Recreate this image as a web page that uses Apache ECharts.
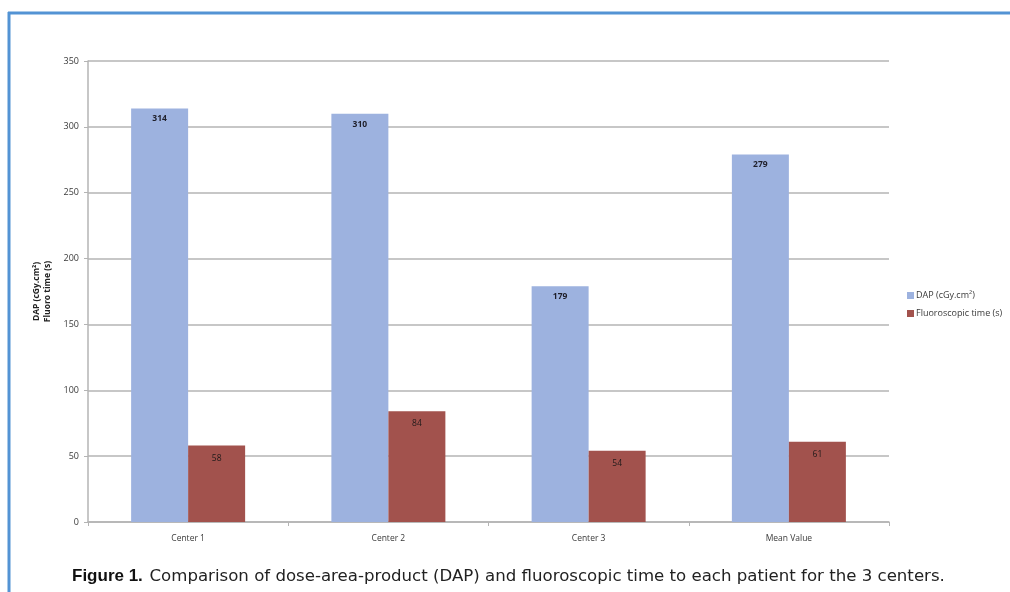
<!DOCTYPE html>
<html>
<head>
<meta charset="utf-8">
<script src="https://cdn.jsdelivr.net/npm/echarts@6/dist/echarts.min.js"></script>
<style>
  html, body { margin: 0; padding: 0; background: #fff; }
  #chart { width: 1010px; height: 592px; }
</style>
</head>
<body>
<div id="chart"></div>
<script>
// Per-center values
const categories = ['Center 1', 'Center 2', 'Center 3', 'Mean Value'];
const dapValues = [314, 310, 179, 279];
const fluoroValues = [58, 84, 54, 61];
const seriesNames = ['DAP (cGy.cm\u00b2)', 'Fluoroscopic time (s)'];
const yAxisTitle = 'DAP (cGy.cm\u00b2)\nFluoro time (s)';
const captionBold = 'Figure 1.';
const captionText = 'Comparison of dose-area-product (DAP) and fluoroscopic time to each patient for the 3 centers.';

const chart = echarts.init(document.getElementById('chart'), null, { renderer: 'canvas' });
const gridColor = '#b4b4b4';
const textColor = '#3a3a3a';

chart.setOption({
  animation: false,
  backgroundColor: '#ffffff',
  textStyle: { fontFamily: 'Open Sans, Liberation Sans, sans-serif' },
  grid: { left: 88, right: 121, top: 61, bottom: 70, containLabel: false },
  legend: {
    orient: 'vertical',
    left: 902,
    top: 286,
    itemWidth: 7,
    itemHeight: 7,
    itemGap: 9,
    icon: 'rect',
    textStyle: { fontSize: 9, color: textColor, padding: [0, 0, 0, -3] },
    data: seriesNames
  },
  xAxis: {
    type: 'category',
    data: categories,
    axisLine: { lineStyle: { color: gridColor, width: 1.5 } },
    axisTick: { show: true, length: 4, lineStyle: { color: gridColor } },
    axisLabel: { fontSize: 8.5, color: textColor, margin: 12 }
  },
  yAxis: {
    type: 'value',
    min: 0,
    max: 350,
    interval: 50,
    name: yAxisTitle,
    nameLocation: 'middle',
    nameRotate: 90,
    nameGap: 33,
    nameTextStyle: { fontSize: 8.5, fontWeight: 'bold', color: '#222', lineHeight: 11, align: 'center' },
    axisLine: { show: true, lineStyle: { color: gridColor, width: 1.5 } },
    axisTick: { show: true, length: 4, lineStyle: { color: gridColor } },
    axisLabel: { fontSize: 9, color: textColor, margin: 9 },
    splitLine: { lineStyle: { color: gridColor, width: 1.5 } }
  },
  series: [
    {
      name: seriesNames[0],
      type: 'bar',
      data: dapValues,
      barWidth: 57,
      barGap: '0%',
      itemStyle: { color: '#9db2df' },
      label: {
        show: true, position: 'insideTop', distance: 6,
        fontSize: 8.5, fontWeight: 'bold', color: '#1f1f2a'
      }
    },
    {
      name: seriesNames[1],
      type: 'bar',
      data: fluoroValues,
      barWidth: 57,
      barGap: '0%',
      itemStyle: { color: '#a2524d' },
      label: {
        show: true, position: 'insideTop', distance: 8,
        fontSize: 8.5, color: '#1f1a1a'
      }
    }
  ],
  graphic: [
    // Figure frame
    { type: 'line', shape: { x1: 8, y1: 13, x2: 1010, y2: 13 }, style: { stroke: '#5393d4', lineWidth: 3 } },
    { type: 'line', shape: { x1: 9, y1: 12, x2: 9, y2: 592 }, style: { stroke: '#5393d4', lineWidth: 3 } },
    // Caption
    {
      type: 'text',
      left: 72,
      top: 568,
      style: {
        text: '{b|' + captionBold + '}  {n|' + captionText + '}',
        rich: {
          b: { fontFamily: 'Liberation Sans Narrow, Liberation Sans, sans-serif', fontWeight: 'bold', fontSize: 17, fill: '#111' },
          n: { fontFamily: 'DejaVu Sans, sans-serif', fontSize: 16.6, fill: '#222' }
        }
      }
    }
  ]
});
</script>
</body>
</html>
